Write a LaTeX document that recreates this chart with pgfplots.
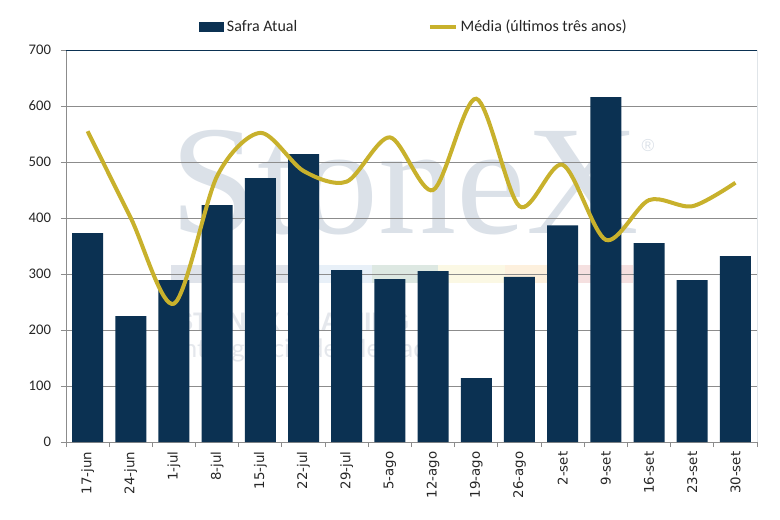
\documentclass[border=0pt]{standalone}
\usepackage{pgfplots}
\pgfplotsset{compat=1.18}
\usepackage{fontspec}
\setmainfont{Carlito}
\newfontfamily\dejavu{DejaVu Sans}
\newfontfamily\wmserif{Liberation Serif}
\newfontfamily\wmsans{Liberation Sans}
\newfontfamily\wmlight{Lato}
\definecolor{navy}{RGB}{11,49,82}
\definecolor{gold}{RGB}{200,177,44}
\definecolor{gridgray}{RGB}{140,140,140}
\definecolor{wmcol}{RGB}{219,225,232}
\definecolor{wmfaint}{RGB}{228,231,236}
\definecolor{bandA}{RGB}{223,227,234}
\definecolor{bandB}{RGB}{232,240,248}
\definecolor{bandC}{RGB}{221,232,226}
\definecolor{bandD}{RGB}{251,248,228}
\definecolor{bandE}{RGB}{253,240,221}
\definecolor{bandF}{RGB}{245,224,224}

\pgfplotstableread{
x safra media
0 373 555
1 225 400
2 289 247
3 423 475
4 471 552
5 514 484
6 307 465
7 291 544
8 305 450
9 114 613
10 295 421
11 387 495
12 616 361
13 355 432
14 289 421
15 332 463
}\datatable

\begin{document}
\begin{tikzpicture}
\useasboundingbox (-49.5pt,-57.75pt) rectangle (535.5pt,331.5pt);
% faint watermark behind the plot
\fill[bandA] (78.75pt,119.25pt) rectangle (189pt,132.75pt);
\fill[bandB] (189pt,119.25pt) rectangle (229.5pt,132.75pt);
\fill[bandC] (229.5pt,119.25pt) rectangle (279pt,132.75pt);
\fill[bandD] (279pt,119.25pt) rectangle (329.25pt,132.75pt);
\fill[bandE] (329.25pt,119.25pt) rectangle (361.5pt,132.75pt);
\fill[bandF] (361.5pt,119.25pt) rectangle (425.25pt,132.75pt);
\node[anchor=base, inner sep=0, text=wmcol, font=\wmserif\fontsize{117}{117}\selectfont] at (254pt,156.75pt) {StoneX};
\node[anchor=center, inner sep=0, text=wmcol, font=\wmsans\fontsize{13}{13}\selectfont] at (436.5pt,222pt) {®};
\node[anchor=base west, inner sep=0, text=wmfaint, font=\wmsans\bfseries\fontsize{19}{19}\selectfont] at (82.5pt,84pt) {STONEX TRAINING};
\node[anchor=base west, inner sep=0, text=wmfaint, font=\wmlight\fontsize{19}{19}\selectfont] at (82.5pt,63.75pt) {Inteligência de Mercado};
\begin{axis}[
  at={(0,0)}, anchor=south west,
  scale only axis, width=518.25pt, height=294pt,
  xmin=-0.5, xmax=15.5, ymin=0, ymax=700,
  axis x line*=bottom, axis y line*=left,
  axis line style={draw=gridgray, line width=0.75pt, -},
  ytick={0,100,...,700},
  xtick={0,...,15},
  xticklabels={17-jun,24-jun,1-jul,8-jul,15-jul,22-jul,29-jul,5-ago,12-ago,19-ago,26-ago,2-set,9-set,16-set,23-set,30-set},
  minor xtick={-0.5,0.5,...,15.5},
  every major x tick/.append style={draw=none},
  tick align=outside,
  major tick length=3.75pt, minor tick length=3.75pt,
  tick style={draw=gridgray, line width=0.75pt},
  ymajorgrids, major grid style={draw=gridgray, line width=0.75pt},
  /pgf/number format/assume math mode=true,
  y tick label style={font=\fontsize{11}{13}\selectfont, text=black!85},
  yticklabel style={xshift=-4pt},
  x tick label style={rotate=90, anchor=east, font=\dejavu\fontsize{10}{12}\selectfont, text=black!85, yshift=0pt},
  legend columns=2,
  legend style={at={(0.5,1)}, anchor=center, yshift=17.25pt, xshift=2pt, draw=none, fill=none,
    font=\fontsize{12}{14}\selectfont, text=black!85,
    /tikz/every even column/.append style={column sep=96pt}},
]
\addplot[ybar, bar width=23.25pt, fill=navy, draw=none,
  legend image code/.code={\fill[navy] (0pt,-4pt) rectangle (19pt,4pt);}]
  table[x=x, y=safra] {\datatable};
\addlegendentry{Safra Atual}
\addplot[gold, line width=3pt, smooth, tension=0.5,
  legend image code/.code={\draw[gold, line width=3pt] (0pt,0pt) -- (19.5pt,0pt);}]
  table[x=x, y=media] {\datatable};
\addlegendentry{Média (últimos três anos)}
\draw[navy, line width=0.75pt] (rel axis cs:0,1) -- (rel axis cs:1,1) -- (rel axis cs:1,0);
\end{axis}
\end{tikzpicture}
\end{document}
